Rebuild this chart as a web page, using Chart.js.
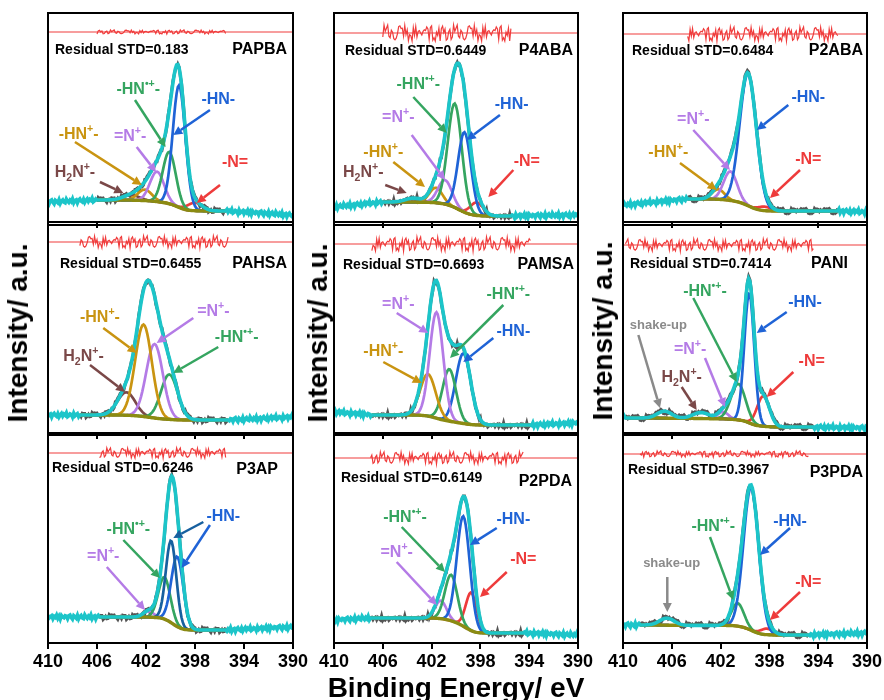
<!DOCTYPE html>
<html>
<head>
<meta charset="utf-8">
<script src="https://cdn.jsdelivr.net/npm/chart.js@4.4.1/dist/chart.umd.min.js"></script>
<style>
  body { margin: 0; width: 884px; height: 700px; position: relative; overflow: hidden; background: #fff;
         font-family: 'Liberation Sans', Arial, Helvetica, sans-serif; }
  .box { position: absolute; }
  .title { position: absolute; font-weight: bold; font-size: 28px; white-space: nowrap; color: #000;
           transform: translate(-50%, -50%); z-index: 5; }
  .ytitle { transform: translate(-50%, -50%) rotate(-90deg); }
</style>
</head>
<body>
<div class="title ytitle" style="left:18px;top:333px">Intensity/ a.u.</div>
<div class="title ytitle" style="left:318px;top:333px">Intensity/ a.u.</div>
<div class="title ytitle" style="left:603px;top:331px">Intensity/ a.u.</div>
<div class="title" style="left:456px;top:688px">Binding Energy/ eV</div>

<script>
// ---- data (x in eV, y in a.u. = px above panel floor) ----
var xTicks = [410, 406, 402, 398, 394, 390];
var names = ['PAPBA', 'P4ABA', 'P2ABA', 'PAHSA', 'PAMSA', 'PANI', 'P3AP', 'P2PDA', 'P3PDA'];
var stdText = ['0.183', '0.6449', '0.6484', '0.6455', '0.6693', '0.7414', '0.6246', '0.6149', '0.3967'];

// fitted window and Shirley background ends
var fitFrom = [406, 406, 404.7, 407.4, 406.9, 409.8, 405.8, 407, 408.6];
var fitTo = [395.5, 395.5, 392.4, 395.3, 393.9, 394.4, 395.5, 394.5, 394.8];
var bgHigh = [22, 20, 23, 18, 18, 15, 26, 25, 18];
var bgLow = [11, 6, 11, 13, 8, 6, 13, 10, 8];
// raw signal level at 410 eV and 390 eV
var edgeLeft = [20, 15, 17, 18, 21, 15, 26, 23, 18];
var edgeRight = [7, 7, 10, 16, 10, 5, 16, 8, 10];
// residual trace: zero level and spread
var residLevel = [190, 189, 188, 191, 189, 188, 190, 185, 189];
var residSize = [2, 8, 7, 6, 7, 6, 5, 6, 3];
var jitter = [0.35, -0.8, 0.55, 0.9, -0.25, -1, 0.6, 0.1, -0.5, 0.85, -0.9, 0.2, 0.7, -0.4, -0.7, 1, 0.05, -0.6, 0.4, -0.3,
  0.95, -0.85, 0.2, 0.5, -1, 0.3, 0.8, -0.2, -0.65, 0.6, -0.9, 0.1, 0.75, -0.5, 0.4, -0.1, 1, -0.75, -0.3, 0.5,
  0.2, -0.95, 0.8, -0.4, 0.15, 0.6, -0.8, 0.3, -0.2, 0.9, -0.6, 0.45, -1, 0.7, 0, -0.35, 0.55];

// fitted components: [species, centre eV, height, FWHM eV]
var peaksPAPBA = [['HN', 399.3, 122, 1.2], ['HNr', 400.1, 52, 1.25], ['Np', 401.1, 30, 1.35], ['HNp', 402.1, 11, 1.35], ['H2N', 403.2, 5, 1.6], ['Neq', 398.0, 8, 1.4]];
var peaksP4ABA = [['HN', 399.3, 80, 1.25], ['HNr', 400.1, 104, 1.35], ['Np', 400.9, 24, 1.35], ['HNp', 401.65, 15, 1.25], ['H2N', 403.5, 4, 1.5], ['Neq', 398.3, 13, 1.25]];
var peaksP2ABA = [['HN', 399.75, 132, 1.6], ['Np', 401.2, 29, 1.3], ['HNp', 402.2, 10, 1.2], ['Neq', 398.4, 4, 1.2]];
var peaksPAHSA = [['HNp', 402.2, 92, 1.6], ['Np', 401.3, 74, 1.6], ['HNr', 400.1, 45, 1.6], ['H2N', 403.6, 23, 1.7]];
var peaksPAMSA = [['Np', 401.6, 106, 1.3], ['HNp', 402.3, 42, 1.5], ['HNr', 400.55, 52, 1.3], ['HN', 399.4, 70, 1.45]];
var peaksPANI = [['HN', 399.65, 130, 0.95], ['HNr', 400.55, 36, 1.4], ['Neq', 398.5, 30, 1.2], ['Np', 401.8, 7, 1.0], ['H2N', 403.6, 6, 1.6], ['shake', 406.6, 7, 1.4]];
var peaksP3AP = [['HNd', 399.95, 82, 1.0], ['HN', 399.45, 70, 1.15], ['HNr', 400.5, 42, 1.15], ['Np', 401.8, 6, 1.0]];
var peaksP2PDA = [['HN', 399.4, 110, 1.25], ['HNr', 400.4, 46, 1.2], ['Np', 401.25, 18, 1.1], ['Neq', 398.75, 38, 1.05]];
var peaksP3PDA = [['HN', 399.5, 143, 1.45], ['HNr', 400.6, 23, 1.2], ['Neq', 398.2, 6, 1.2], ['shake', 406.4, 7, 1.4]];
var peakSets = [peaksPAPBA, peaksP4ABA, peaksP2ABA, peaksPAHSA, peaksPAMSA, peaksPANI, peaksP3AP, peaksP2PDA, peaksP3PDA];

// ---- styling / layout ----
var FONT = "'Liberation Sans', Arial, Helvetica, sans-serif";
var colorOf = { HN: '#1f63d6', HNd: '#17609f', HNr: '#35a560', Np: '#b47be6', HNp: '#c99411', H2N: '#7a4848', Neq: '#ee3b3b', shake: '#8a8a8a' };
var labelOf = { HN: '-HN-', HNd: '-HN-', HNr: '-HN^{•+}-', Np: '=N^{+}-', HNp: '-HN^{+}-', H2N: 'H_{2}N^{+}-', Neq: '-N=', shake: 'shake-up' };

var colLeft = [48, 334, 623], colRight = [293, 578, 867];
var rowTop = [13, 225, 435], rowBottom = [222, 433, 643];
var stdInset = [[7, 37], [11, 38], [9, 38], [12, 39], [9, 40], [7, 39], [4, 33], [7, 43], [5, 35]];
var nameInset = [[6, 37], [5, 38], [4, 38], [6, 39], [4, 40], [19, 39], [15, 35], [6, 47], [4, 38]];

// labels: [species, text x, text y, [[x1, y1, x2, y2, colour?], ...]]
var notes = [
  [['HNr', 402.63, 132, [[402.9, 122, 400.4, 75]]], ['HN', 396.1, 122, [[396.78, 112, 399.77, 87]]],
   ['HNp', 407.5, 87, [[407.8, 80, 402.35, 37]]], ['Np', 403.3, 85, [[402.76, 75, 401.18, 50]]],
   ['H2N', 407.8, 49, [[405.76, 40, 403.85, 29]]], ['Neq', 394.73, 59, [[395.96, 37, 397.86, 19]]]],
  [['HNr', 403.09, 137, [[403.5, 125, 400.76, 89]]], ['HN', 395.44, 117, [[396.4, 107, 399.12, 82]]],
   ['Np', 404.73, 104, [[403.63, 87, 400.9, 42]]], ['HNp', 405.96, 69, [[405.14, 60, 402.54, 35]]],
   ['H2N', 407.6, 49, [[405.8, 37, 404.04, 29]]], ['Neq', 394.2, 60, [[395.3, 52, 397.35, 25]]]],
  [['HN', 394.81, 124, [[396.45, 117, 399.04, 92]]], ['Np', 404.24, 102, [[404.24, 92, 401.23, 52]]],
   ['HNp', 406.29, 69, [[405.33, 59, 402.32, 32]]], ['Neq', 394.81, 62, [[395.49, 52, 397.95, 24]]]],
  [['HNp', 405.76, 115, [[405.49, 105, 402.76, 80]]], ['Np', 396.5, 121, [[398.14, 115, 401.13, 90]]],
   ['HNr', 394.6, 95, [[396.1, 86, 399.77, 60]]], ['H2N', 407.1, 76, [[406.57, 68, 403.71, 41]]]],
  [['Np', 404.73, 128, [[404.86, 120, 402.27, 100]]], ['HNr', 395.71, 138, [[396.12, 128, 400.49, 75]]],
   ['HN', 395.3, 101, [[396.94, 95, 399.4, 71]]], ['HNp', 405.96, 81, [[405.96, 71, 402.81, 50]]]],
  [['HNr', 403.28, 141, [[404.24, 135, 400.68, 51]]], ['HN', 395.08, 130, [[396.58, 121, 399.04, 100]]],
   ['shake', 407.1, 108, [[408.74, 98, 406.97, 25]]], ['Np', 404.5, 83, [[403.28, 75, 401.64, 26]]],
   ['H2N', 405.19, 55, [[405.19, 46, 403.96, 23]]], ['Neq', 394.53, 71, [[396.04, 61, 398.22, 36]]]],
  [['HN', 395.69, 126, [[397.32, 121, 399.77, 105, 'HNd'], [396.78, 118, 399.09, 75]]],
   ['HNr', 403.44, 113, [[403.85, 103, 400.86, 65]]], ['Np', 405.49, 86, [[405.2, 76, 402.08, 33]]]],
  [['HNr', 404.18, 125, [[404.45, 116, 400.9, 71]]], ['HN', 395.3, 123, [[396.66, 115, 398.85, 98]]],
   ['Np', 404.86, 90, [[404.86, 81, 401.58, 38]]], ['Neq', 394.48, 83, [[395.84, 71, 398.03, 46]]]],
  [['HN', 396.31, 121, [[396.31, 115, 398.77, 88]]], ['HNr', 402.6, 116, [[402.87, 106, 400.96, 43]]],
   ['shake', 406.01, 80, [[406.37, 66, 406.37, 31]]], ['Neq', 394.81, 60, [[395.49, 51, 397.95, 23]]]]
];

var grid = [];
for (var i = 0; i <= 200; i++) grid.push(Math.round((410 - i * 0.1) * 10) / 10);

function gauss(k, x) {
  return k[2] * Math.exp(-4 * Math.LN2 * (x - k[1]) * (x - k[1]) / (k[3] * k[3]));
}

function arrow(ctx, x1, y1, x2, y2, col) {
  var ang = Math.atan2(y2 - y1, x2 - x1), len = 9, half = 4.5;
  var bx = x2 - len * Math.cos(ang), by = y2 - len * Math.sin(ang);
  ctx.strokeStyle = col; ctx.fillStyle = col; ctx.lineWidth = 2.5;
  ctx.beginPath(); ctx.moveTo(x1, y1); ctx.lineTo(bx, by); ctx.stroke();
  ctx.beginPath(); ctx.moveTo(x2, y2);
  ctx.lineTo(bx + half * Math.sin(ang), by - half * Math.cos(ang));
  ctx.lineTo(bx - half * Math.sin(ang), by + half * Math.cos(ang));
  ctx.closePath(); ctx.fill();
}

function drawRich(ctx, text, cx, cy, size, col) {
  var parts = [];
  text.replace(/\^\{([^}]*)\}|_\{([^}]*)\}|([^^_]+)/g, function (m, sup, sub, plain) {
    if (sup !== undefined) parts.push([sup, -0.38]);
    else if (sub !== undefined) parts.push([sub, 0.3]);
    else parts.push([plain, 0]);
    return m;
  });
  var total = 0;
  parts.forEach(function (pt) {
    ctx.font = 'bold ' + (pt[1] ? size * 0.66 : size) + 'px ' + FONT;
    pt.push(ctx.measureText(pt[0]).width);
    total += pt[2];
  });
  var x = cx - total / 2;
  ctx.fillStyle = col; ctx.textAlign = 'left'; ctx.textBaseline = 'middle';
  parts.forEach(function (pt) {
    ctx.font = 'bold ' + (pt[1] ? size * 0.66 : size) + 'px ' + FONT;
    ctx.fillText(pt[0], x, cy + pt[1] * size);
    x += pt[2];
  });
}

var decor = {
  id: 'decor',
  afterDatasetsDraw: function (chart, args, opts) {
    var p = opts.panel, ctx = chart.ctx, a = chart.chartArea;
    var sx = chart.scales.x, sy = chart.scales.y;
    ctx.save();
    ctx.strokeStyle = '#000'; ctx.lineWidth = 2;
    ctx.strokeRect(a.left, a.top, a.right - a.left, a.bottom - a.top);
    ctx.fillStyle = '#000'; ctx.textBaseline = 'middle';
    ctx.font = 'bold 14px ' + FONT; ctx.textAlign = 'left';
    ctx.fillText('Residual STD=' + stdText[p], a.left + stdInset[p][0], a.top + stdInset[p][1]);
    ctx.font = 'bold 16px ' + FONT; ctx.textAlign = 'right';
    ctx.fillText(names[p], a.right - nameInset[p][0], a.top + nameInset[p][1]);
    notes[p].forEach(function (n) {
      n[3].forEach(function (ar) {
        arrow(ctx, sx.getPixelForValue(ar[0]), sy.getPixelForValue(ar[1]),
          sx.getPixelForValue(ar[2]), sy.getPixelForValue(ar[3]), colorOf[ar[4] || n[0]]);
      });
      drawRich(ctx, labelOf[n[0]], sx.getPixelForValue(n[1]), sy.getPixelForValue(n[2]),
        n[0] === 'shake' ? 13 : 16, colorOf[n[0]]);
    });
    ctx.restore();
  }
};

function line(data, color, width) {
  return { data: data, borderColor: color, borderWidth: width, pointRadius: 0, fill: false, tension: 0 };
}

function buildDatasets(p) {
  var peaks = peakSets[p];
  var fitIdx = [];
  grid.forEach(function (x, gi) { if (x <= fitFrom[p] && x >= fitTo[p]) fitIdx.push(gi); });
  var sums = fitIdx.map(function (gi) {
    return peaks.reduce(function (s, k) { return s + gauss(k, grid[gi]); }, 0);
  });
  // Shirley type background: step follows the peak area on the low-energy side
  var cum = [], acc = 0;
  for (var j = sums.length - 1; j >= 0; j--) { acc += sums[j]; cum[j] = acc; }
  var bg = cum.map(function (c) { return bgLow[p] + (bgHigh[p] - bgLow[p]) * c / acc; });
  var env = bg.map(function (b, j) { return b + sums[j]; });
  var N = jitter.length;

  var cyan = grid.map(function (x, gi) {
    var y;
    if (x > fitFrom[p]) {
      y = edgeLeft[p] + (bgHigh[p] - edgeLeft[p]) * (410 - x) / (410 - fitFrom[p]) + 2.2 * jitter[(gi + p * 7) % N];
    } else if (x < fitTo[p]) {
      y = bgLow[p] + (edgeRight[p] - bgLow[p]) * (fitTo[p] - x) / (fitTo[p] - 390) + 2.2 * jitter[(gi + p * 7) % N];
    } else {
      y = env[fitIdx.indexOf(gi)];
    }
    return { x: x, y: y };
  });
  var raw = fitIdx.map(function (gi, j) { return { x: grid[gi], y: env[j] + 2.6 * jitter[(gi * 3 + 11 + p * 5) % N] }; });
  var resid = fitIdx.map(function (gi) { return { x: grid[gi], y: residLevel[p] + residSize[p] * jitter[(gi * 7 + p * 13) % N] }; });
  var base = fitIdx.map(function (gi, j) { return { x: grid[gi], y: bg[j] }; });

  var sets = [line(cyan, '#1cc5c9', 3.6), line(base, '#8b8b12', 3.4)];
  peaks.forEach(function (k) {
    var c = k[0] === 'shake' ? '#9a9a9a' : colorOf[k[0]];
    sets.push(line(fitIdx.map(function (gi, j) { return { x: grid[gi], y: bg[j] + gauss(k, grid[gi]) }; }), c, 2.7));
  });
  sets.push(line(raw, '#555555', 3));
  sets.push(line(resid, '#f03c3c', 1.2));
  sets.push(line([{ x: 410, y: residLevel[p] }, { x: 390, y: residLevel[p] }], '#f03c3c', 1.2));
  return sets;
}

for (var p = 0; p < 9; p++) {
  var col = p % 3, row = Math.floor(p / 3);
  var L = colLeft[col], R = colRight[col], T = rowTop[row], B = rowBottom[row];
  var bottomRow = row === 2;
  var axisH = bottomRow ? 30 : 8;
  var div = document.createElement('div');
  div.className = 'box';
  div.style.left = (L - 22) + 'px';
  div.style.top = (T - 4) + 'px';
  var cv = document.createElement('canvas');
  cv.width = R - L + 44;
  cv.height = B - T + 4 + axisH;
  div.appendChild(cv);
  document.body.appendChild(div);

  new Chart(cv, {
    type: 'line',
    data: { datasets: buildDatasets(p) },
    plugins: [decor],
    options: {
      responsive: false,
      animation: false,
      events: [],
      layout: { padding: { left: 22, right: 22, top: 4, bottom: 0 } },
      plugins: { legend: { display: false }, tooltip: { enabled: false }, decor: { panel: p } },
      scales: {
        x: {
          type: 'linear', reverse: true, min: 390, max: 410,
          afterBuildTicks: function (s) { s.ticks = xTicks.map(function (v) { return { value: v }; }); },
          afterFit: (function (h) { return function (s) { s.height = h; }; })(axisH),
          ticks: { display: bottomRow, autoSkip: false, maxRotation: 0, padding: 2, color: '#000',
                   font: { family: FONT, size: 18, weight: 'bold' } },
          grid: { display: true, drawOnChartArea: false, drawTicks: true, tickLength: 6, color: '#000', lineWidth: 2 },
          border: { display: false }
        },
        y: { display: false, min: 0, max: B - T }
      }
    }
  });
}
</script>
</body>
</html>
